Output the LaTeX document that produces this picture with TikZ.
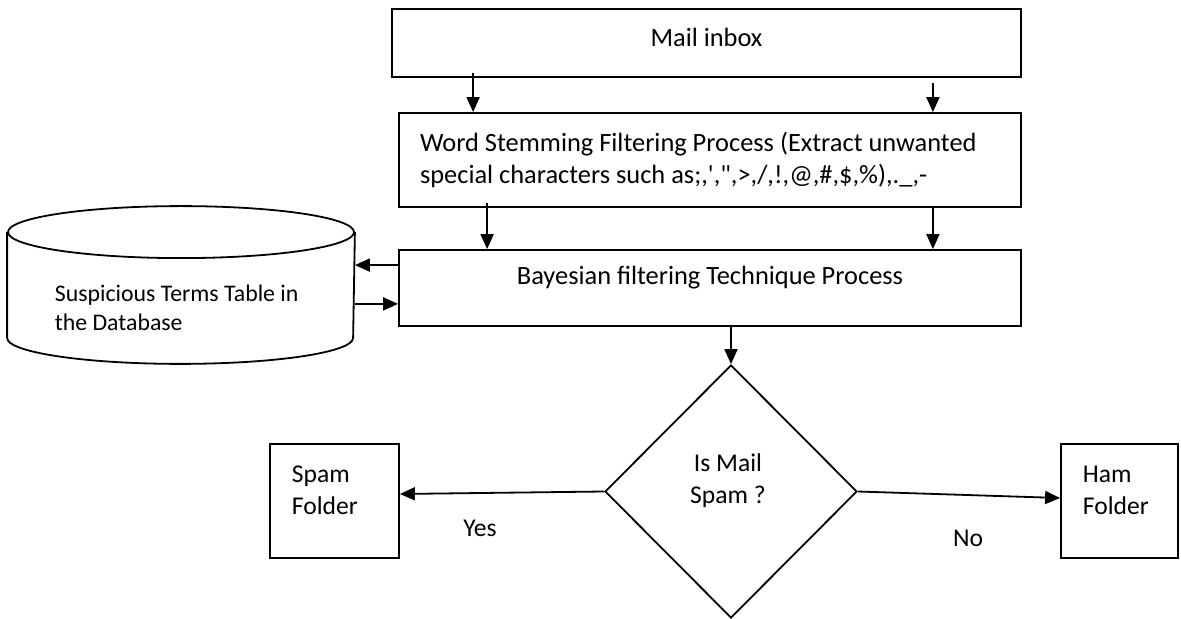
\documentclass[tikz,border=0pt]{standalone}
\usepackage{fontspec}
\setmainfont{Carlito}
\usetikzlibrary{shapes.geometric, arrows.meta}

\begin{document}
\begin{tikzpicture}[x=0.5pt, y=-0.5pt, line width=0.9pt,
  proc/.style={draw, rectangle, inner sep=0pt, font=\fontsize{13.2}{16}\selectfont},
  folder/.style={draw, rectangle, inner sep=0pt, minimum height=57pt},
  note/.style={inner sep=0pt, font=\fontsize{12.8}{16}\selectfont},
  arr/.style={-{Triangle[length=7.5pt, width=6.5pt]}}]
\useasboundingbox (0,0) rectangle (1181,619);

% process boxes
\node [proc, minimum width=314.5pt, text height=19pt, text depth=15pt] (inbox) at (706.5,43) {Mail inbox};
\node [proc, minimum width=311pt, minimum height=47pt, inner xsep=10.5pt, text width=290pt, align=flush left] (stem) at (710,160)
  {Word Stemming Filtering Process (Extract unwanted\\special characters such as;,\textquotesingle,\textquotedbl,>,/,!,@,\#,\$,\%),.\_,-};
\node [proc, minimum width=311pt, text height=17.5pt, text depth=20.5pt] (bayes) at (710,288) {Bayesian filtering Technique Process};

% database (body node, drawn as a cylinder)
\node [minimum width=173pt, minimum height=52pt, inner sep=0pt] (db) at (181,285) {};
\draw (db.north west) -- (db.south west)
  arc[start angle=180, end angle=360, x radius=86.5pt, y radius=13pt] -- (db.north east);
\draw (db.north) ellipse [x radius=86.5pt, y radius=13pt];
\node [note, font=\fontsize{11.9}{14.5}\selectfont, align=left, anchor=north west] (dbtxt) at (54,284) {Suspicious Terms Table in\\the Database};

% decision
\node [draw, diamond, aspect=1, inner sep=0pt, minimum width=126pt, minimum height=126.5pt] (dec) at (731,491.5) {};
\node [note, align=center] (dectxt) at (728,481) {Is Mail\\Spam ?};

% folders
\node [folder, minimum width=64.5pt] (spam) at (334.5,501) {};
\node [note, align=left, anchor=north west] (spamtxt) at (291,465) {Spam\\Folder};
\node [folder, minimum width=58.5pt] (ham) at (1119.5,501) {};
\node [note, align=left, anchor=north west] (hamtxt) at (1082,465) {Ham\\Folder};

\node [note] (yes) at (480,528) {Yes};
\node [note] (no) at (968,538) {No};

% connectors
\coordinate (a1) at ([xshift=41pt, yshift=2.5pt]inbox.south west);
\coordinate (a2) at ([xshift=-44.5pt, yshift=-2.5pt]inbox.south east);
\coordinate (a3) at ([xshift=44.5pt, yshift=2.5pt]stem.south west);
\coordinate (a4) at ([xshift=-44.5pt]stem.south east);
\coordinate (b1) at ([yshift=-8pt]bayes.north west);
\coordinate (b2) at ([yshift=11.5pt]bayes.south west);
\draw[arr] (a1) -- (a1 |- stem.north);
\draw[arr] (a2) -- (a2 |- stem.north);
\draw[arr] (a3) -- (a3 |- bayes.north);
\draw[arr] (a4) -- (a4 |- bayes.north);
\draw[arr] (b1) -- (b1 -| db.east);
\draw[arr] (b2 -| db.east) -- (b2);
\draw[arr] ([xshift=10.5pt]bayes.south) -- (dec.north);
\draw[arr] (dec.west) -- ([yshift=3.5pt]spam.east);
\draw[arr] (dec.east) -- ([yshift=1.5pt]ham.west);
\end{tikzpicture}
\end{document}
